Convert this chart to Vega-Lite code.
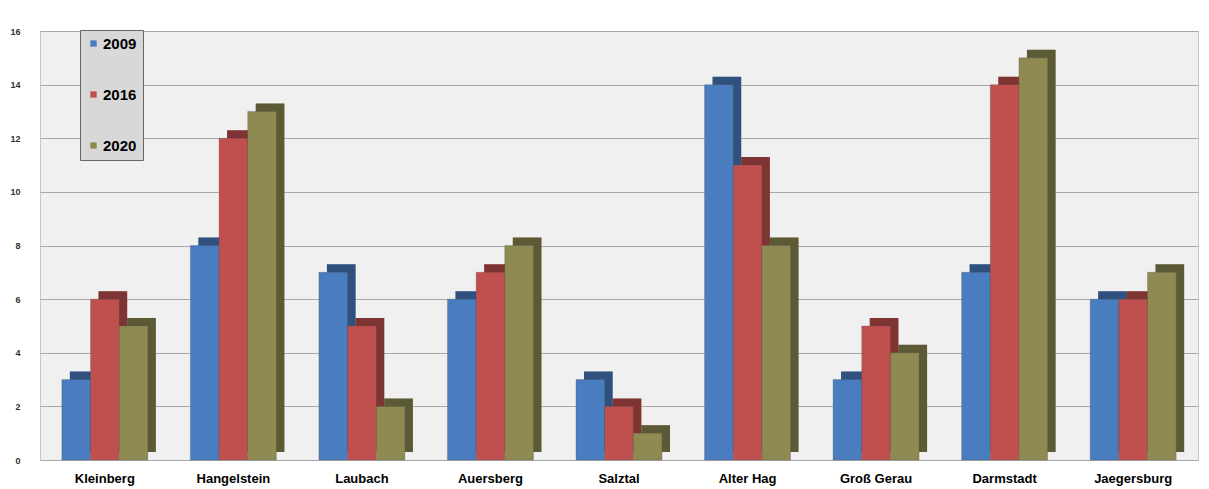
{
  "$schema": "https://vega.github.io/schema/vega-lite/v6.json",
  "width": 1158,
  "height": 429,
  "padding": {"left": 40, "top": 31, "right": 11, "bottom": 29},
  "autosize": {"type": "none"},
  "background": "#ffffff",
  "config": {
    "view": {"fill": "#f0f0f0", "stroke": "#c8c8c8"},
    "font": "Liberation Sans"
  },
  "data": {
    "values": [
      {"site": "Kleinberg", "year": "2009", "value": 3},
      {"site": "Kleinberg", "year": "2016", "value": 6},
      {"site": "Kleinberg", "year": "2020", "value": 5},
      {"site": "Hangelstein", "year": "2009", "value": 8},
      {"site": "Hangelstein", "year": "2016", "value": 12},
      {"site": "Hangelstein", "year": "2020", "value": 13},
      {"site": "Laubach", "year": "2009", "value": 7},
      {"site": "Laubach", "year": "2016", "value": 5},
      {"site": "Laubach", "year": "2020", "value": 2},
      {"site": "Auersberg", "year": "2009", "value": 6},
      {"site": "Auersberg", "year": "2016", "value": 7},
      {"site": "Auersberg", "year": "2020", "value": 8},
      {"site": "Salztal", "year": "2009", "value": 3},
      {"site": "Salztal", "year": "2016", "value": 2},
      {"site": "Salztal", "year": "2020", "value": 1},
      {"site": "Alter Hag", "year": "2009", "value": 14},
      {"site": "Alter Hag", "year": "2016", "value": 11},
      {"site": "Alter Hag", "year": "2020", "value": 8},
      {"site": "Groß Gerau", "year": "2009", "value": 3},
      {"site": "Groß Gerau", "year": "2016", "value": 5},
      {"site": "Groß Gerau", "year": "2020", "value": 4},
      {"site": "Darmstadt", "year": "2009", "value": 7},
      {"site": "Darmstadt", "year": "2016", "value": 14},
      {"site": "Darmstadt", "year": "2020", "value": 15},
      {"site": "Jaegersburg", "year": "2009", "value": 6},
      {"site": "Jaegersburg", "year": "2016", "value": 6},
      {"site": "Jaegersburg", "year": "2020", "value": 7}
    ]
  },
  "encoding": {
    "x": {
      "field": "site", "type": "nominal", "sort": null,
      "scale": {"paddingInner": 0.331, "paddingOuter": 0.17},
      "axis": {"title": null, "labelAngle": 0, "labelFontSize": 13, "labelFontWeight": "bold", "labelColor": "#000000", "ticks": false, "domain": false, "labelPadding": 12}
    },
    "y": {
      "field": "value", "type": "quantitative",
      "scale": {"domain": [0, 16]},
      "axis": {"title": null, "values": [0,2,4,6,8,10,12,14,16], "labelFontSize": 9, "labelFontWeight": "bold", "labelColor": "#333333", "ticks": false, "domain": false, "labelPadding": 20, "gridColor": "#a8a8a8", "gridWidth": 1}
    }
  },
  "layer": [
    {
      "layer": [
        {
          "mark": {"type": "bar", "yOffset": -8, "y2Offset": -8},
          "encoding": {
            "color": {
              "field": "year", "type": "nominal",
              "scale": {"range": ["#4a7dc0", "#c0504d", "#8e8a52"]},
              "legend": {
                "title": null, "orient": "none", "legendX": 40, "legendY": -1,
                "symbolType": "square", "symbolSize": 40, "symbolStrokeWidth": 0, "symbolOpacity": 1,
                "labelFontSize": 15, "labelFontWeight": "bold", "labelColor": "#000000",
                "labelOffset": 2, "rowPadding": 35, "padding": 6,
                "fillColor": "#d8d8d8", "strokeColor": "#666666"
              }
            }
          }
        },
        {
          "mark": {"type": "bar", "yOffset": -8, "y2Offset": -8},
          "encoding": {
            "color": {"value": "#000000"},
            "opacity": {"value": 0.35}
          }
        }
      ],
      "encoding": {
        "xOffset": {"field": "year", "type": "nominal", "scale": {"range": [8, 94]}}
      }
    },
    {
      "mark": {"type": "bar", "stroke": "#555555", "strokeWidth": 0.3},
      "encoding": {
        "xOffset": {"field": "year", "type": "nominal"},
        "color": {"field": "year", "type": "nominal"}
      }
    }
  ],
  "resolve": {"scale": {"xOffset": "independent"}}
}
